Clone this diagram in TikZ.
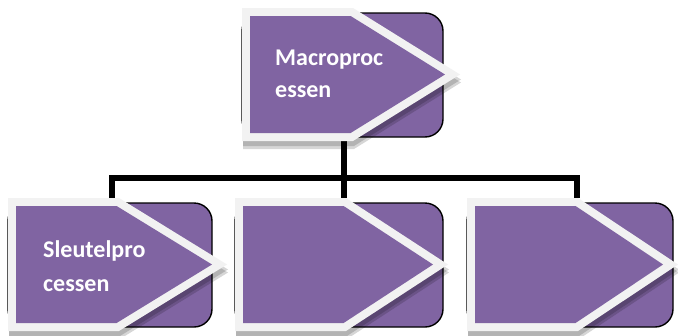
\documentclass[tikz,border=0pt]{standalone}
\usepackage{fontspec}
\setmainfont{Carlito}
\definecolor{procfill}{HTML}{8064A2}
\definecolor{procedge}{HTML}{F2F2F2}
\tikzset{
  backbox/.style={fill=procfill, draw=black, line width=1.4pt, rounded corners=18pt},
  conn/.style={draw=black, line width=6pt, line join=miter},
  lbl/.style={anchor=base west, inner sep=0pt, text=white,
              font=\bfseries\fontsize{24}{30}\selectfont},
  dropshade/.style={fill=black, fill opacity=#1},
}
% #1 name, #2 left, #3 top, #4 right edge of the back card, #5 arrow width, #6 link x
\newcommand\procbox[6]{%
  \coordinate (#1-o) at (#2,#3);
  \coordinate (#1-n) at (#6,#3);
  \coordinate (#1-s) at (#6,{#3+133});
  \path[backbox] (#2,{#3+5}) rectangle (#4,{#3+129});
  \fill[dropshade=0.16] ({#2+1},{#3+5}) -- ({#2+112},{#3+5}) -- ({#2+#5+1},{#3+71.5})
        -- ({#2+112},{#3+138}) -- ({#2+1},{#3+138}) -- cycle;
  \fill[dropshade=0.16] ({#2+1},{#3+8}) -- ({#2+112},{#3+8}) -- ({#2+#5+1},{#3+74.5})
        -- ({#2+112},{#3+141}) -- ({#2+1},{#3+141}) -- cycle;
  \fill[procedge] (#2,#3) -- ({#2+111},#3) -- ({#2+#5},{#3+66.5})
        -- ({#2+111},{#3+133}) -- (#2,{#3+133}) -- cycle;
  \fill[procfill] ({#2+8},{#3+8}) -- ({#2+108.6},{#3+8}) -- ({#2+#5-15},{#3+66.5})
        -- ({#2+108.6},{#3+125}) -- ({#2+8},{#3+125}) -- cycle;
}
\begin{document}
\begin{tikzpicture}[x=1pt, y=-1pt]
  \useasboundingbox (0,0) rectangle (678,335);
  \fill[white] (0,0) rectangle (678,335);

  % hub of the tree lines
  \coordinate (hub) at (344,178);
  \coordinate (l1) at (112,198);
  \coordinate (l3) at (577,198);
  \coordinate (tops) at (344,141);
  \coordinate (l2) at (344,198);

  % connectors
  \draw[conn] (tops) -- (l2);
  \draw[conn] (l1) |- (hub) -| (l3);

  % cards
  \procbox{top}{242}{8}{443}{218}{344}
  \procbox{b1}{8}{198}{212}{219}{112}
  \procbox{b2}{235}{198}{443}{213}{344}
  \procbox{b3}{467}{198}{673}{211}{577}

  % labels
  \node[lbl] (top-t1) at ([shift={(33,57)}]top-o) {Macroproc};
  \node[lbl] (top-t2) at ([shift={(33,89)}]top-o) {essen};
  \node[lbl] (b1-t1) at ([shift={(35,59)}]b1-o) {Sleutelpro};
  \node[lbl] (b1-t2) at ([shift={(35,93)}]b1-o) {cessen};
\end{tikzpicture}
\end{document}
